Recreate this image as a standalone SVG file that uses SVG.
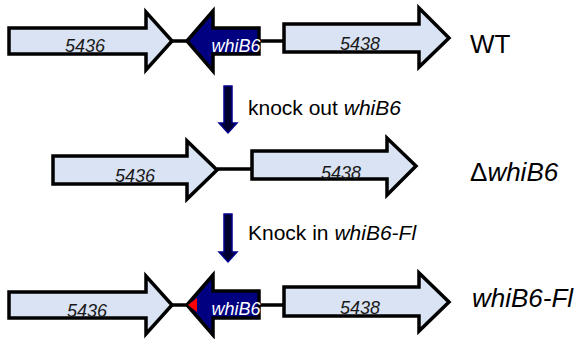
<svg xmlns="http://www.w3.org/2000/svg" width="580" height="339" viewBox="0 0 580 339">
<style>
.gene{fill:#dae3f3;stroke:#000;stroke-width:3.5;stroke-linejoin:miter}
.whib{fill:#000080;stroke:#000;stroke-width:3.5;stroke-linejoin:miter}
.lbl{font-family:"Liberation Sans",Arial,sans-serif;font-style:italic;font-size:18px;fill:#1a1a1a;text-anchor:middle}
.wlbl{font-family:"Liberation Sans",Arial,sans-serif;font-style:italic;font-size:18px;fill:#fff;text-anchor:middle}
.big{font-family:"Liberation Sans",Arial,sans-serif;font-size:26px;fill:#000}
.step{font-family:"Liberation Sans",Arial,sans-serif;font-size:21px;fill:#000}
.it{font-style:italic}
.link{stroke:#000;stroke-width:3.5;fill:none}
.down{fill:#000030;stroke:#000090;stroke-width:1.5}
</style>
<g id="connectors">
<line class="link" x1="172" y1="41" x2="187" y2="41"/>
<line class="link" x1="259" y1="41" x2="284" y2="41"/>
<line class="link" x1="217" y1="169" x2="252" y2="169"/>
<line class="link" x1="172" y1="305" x2="187" y2="305"/>
<line class="link" x1="259" y1="305" x2="284" y2="305"/>
<path class="down" d="M224,86 H232 V123 H237 L228,133 L219,123 H224 Z"/>
<path class="down" d="M224,214 H232 V252 H237 L228,262 L219,252 H224 Z"/>
</g>
<g id="wt-5436">
<path class="gene" d="M9,28 H146 V12 L172,41 L146,70 V54 H9 Z"/>
<text class="lbl" x="85" y="52">5436</text>
</g>
<g id="wt-whiB6">
<path class="whib" d="M187,41 L213,11 V28 H259 V54 H213 V71 Z"/>
<text class="wlbl" x="236" y="52">whiB6</text>
</g>
<g id="wt-5438">
<path class="gene" d="M284,24 H419 V8 L449,38 L419,67 V52 H284 Z"/>
<text class="lbl" x="360" y="50">5438</text>
</g>
<g id="label-wt"><text class="big" x="470" y="53">WT</text></g>
<g id="step-knockout"><text class="step" x="248" y="115">knock out <tspan class="it">whiB6</tspan></text></g>
<g id="ko-5436">
<path class="gene" d="M53,156 H187 V141 L217,170 L187,199 V184 H53 Z"/>
<text class="lbl" x="135" y="182">5436</text>
</g>
<g id="ko-5438">
<path class="gene" d="M252,151 H387 V138 L416,166 L387,195 V179 H252 Z"/>
<text class="lbl" x="341" y="179">5438</text>
</g>
<g id="label-ko"><text class="big" x="470" y="181">Δ<tspan class="it">whiB6</tspan></text></g>
<g id="step-knockin"><text class="step" x="248" y="240">Knock in <tspan class="it">whiB6-Fl</tspan></text></g>
<g id="ki-5436">
<path class="gene" d="M9,292 H146 V276 L172,305 L146,334 V318 H9 Z"/>
<text class="lbl" x="87" y="317">5436</text>
</g>
<g id="ki-whiB6">
<path class="whib" d="M187,305 L213,275 V291 H259 V318 H213 V335 Z"/>
<path d="M188,305 L197,298 V312 Z" fill="#ff0000"/>
<text class="wlbl" x="236" y="315">whiB6</text>
</g>
<g id="ki-5438">
<path class="gene" d="M284,287 H419 V273 L449,302 L419,331 V316 H284 Z"/>
<text class="lbl" x="360" y="314">5438</text>
</g>
<g id="label-ki"><text class="big it" x="472" y="307">whiB6-Fl</text></g>
</svg>
